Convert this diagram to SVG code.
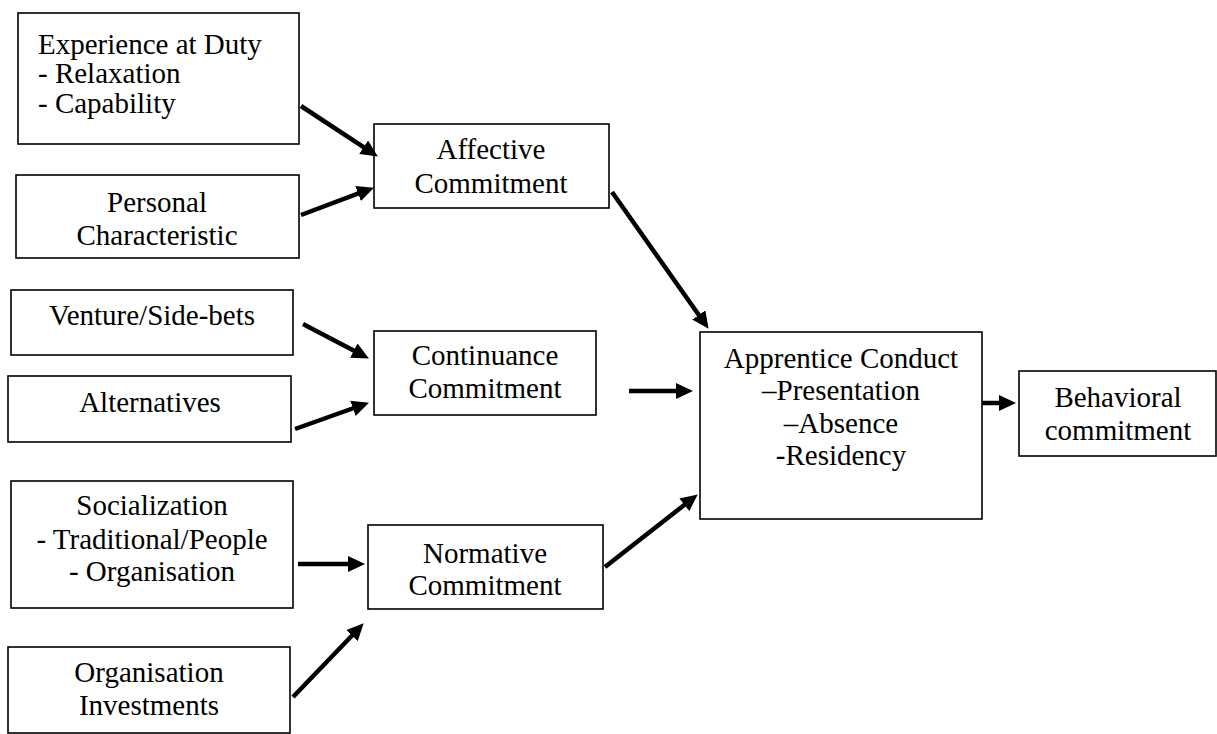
<svg xmlns="http://www.w3.org/2000/svg" width="1217" height="734" viewBox="0 0 1217 734">
<style>
.box{fill:#fff;stroke:#000;stroke-width:1.6}
text{font-family:'Liberation Serif','DejaVu Serif',serif;font-size:29px;fill:#000}
.c{text-anchor:middle}
.arr{stroke:#000;stroke-width:4.5;fill:none;marker-end:url(#ah)}
</style>
<defs>
<marker id="ah" markerUnits="userSpaceOnUse" markerWidth="18" markerHeight="16" refX="4" refY="8" orient="auto">
<path d="M0,0 L17,8 L0,16 z" fill="#000"/>
</marker>
</defs>
<rect width="1217" height="734" fill="#fff"/>
<g id="experience">
<rect class="box" x="18" y="13" width="281" height="131"/>
<text x="38" y="54">Experience at Duty</text>
<text x="38" y="83">- Relaxation</text>
<text x="38" y="113">- Capability</text>
</g>
<g id="personal">
<rect class="box" x="16" y="175" width="283" height="83"/>
<text class="c" x="157" y="212">Personal</text>
<text class="c" x="157" y="245">Characteristic</text>
</g>
<g id="venture">
<rect class="box" x="11" y="290" width="282" height="65"/>
<text class="c" x="152" y="325">Venture/Side-bets</text>
</g>
<g id="alternatives">
<rect class="box" x="8" y="376" width="283" height="66"/>
<text class="c" x="150" y="412">Alternatives</text>
</g>
<g id="socialization">
<rect class="box" x="11" y="481" width="282" height="127"/>
<text class="c" x="152" y="515">Socialization</text>
<text class="c" x="152" y="549">- Traditional/People</text>
<text class="c" x="152" y="581">- Organisation</text>
</g>
<g id="investments">
<rect class="box" x="8" y="647" width="282" height="86"/>
<text class="c" x="149" y="682">Organisation</text>
<text class="c" x="149" y="715">Investments</text>
</g>
<g id="affective">
<rect class="box" x="374" y="124" width="235" height="84"/>
<text class="c" x="491" y="159">Affective</text>
<text class="c" x="491" y="193">Commitment</text>
</g>
<g id="continuance">
<rect class="box" x="374" y="331" width="222" height="84"/>
<text class="c" x="485" y="365">Continuance</text>
<text class="c" x="485" y="398">Commitment</text>
</g>
<g id="normative">
<rect class="box" x="368" y="525" width="235" height="84"/>
<text class="c" x="485" y="563">Normative</text>
<text class="c" x="485" y="595">Commitment</text>
</g>
<g id="apprentice">
<rect class="box" x="700" y="332" width="282" height="187"/>
<text class="c" x="841" y="368">Apprentice Conduct</text>
<text class="c" x="841" y="400">–Presentation</text>
<text class="c" x="841" y="433">–Absence</text>
<text class="c" x="841" y="465">-Residency</text>
</g>
<g id="behavioral">
<rect class="box" x="1019" y="371" width="197" height="85"/>
<text class="c" x="1118" y="407">Behavioral</text>
<text class="c" x="1118" y="440">commitment</text>
</g>
<g id="connectors">
<line class="arr" x1="301" y1="106" x2="367" y2="149.4"/>
<line class="arr" x1="301" y1="215" x2="361.8" y2="192.2"/>
<line class="arr" x1="303" y1="324" x2="357.4" y2="352.4"/>
<line class="arr" x1="295" y1="429" x2="356.7" y2="407"/>
<line class="arr" x1="298" y1="564" x2="352" y2="564"/>
<line class="arr" x1="293" y1="697" x2="354.7" y2="632.7"/>
<line class="arr" x1="612" y1="192" x2="701.1" y2="318.2"/>
<line class="arr" x1="629" y1="391" x2="680" y2="391"/>
<line class="arr" x1="605" y1="567" x2="687.5" y2="502.4"/>
<line class="arr" x1="982" y1="403" x2="1003" y2="403"/>
</g>
</svg>
